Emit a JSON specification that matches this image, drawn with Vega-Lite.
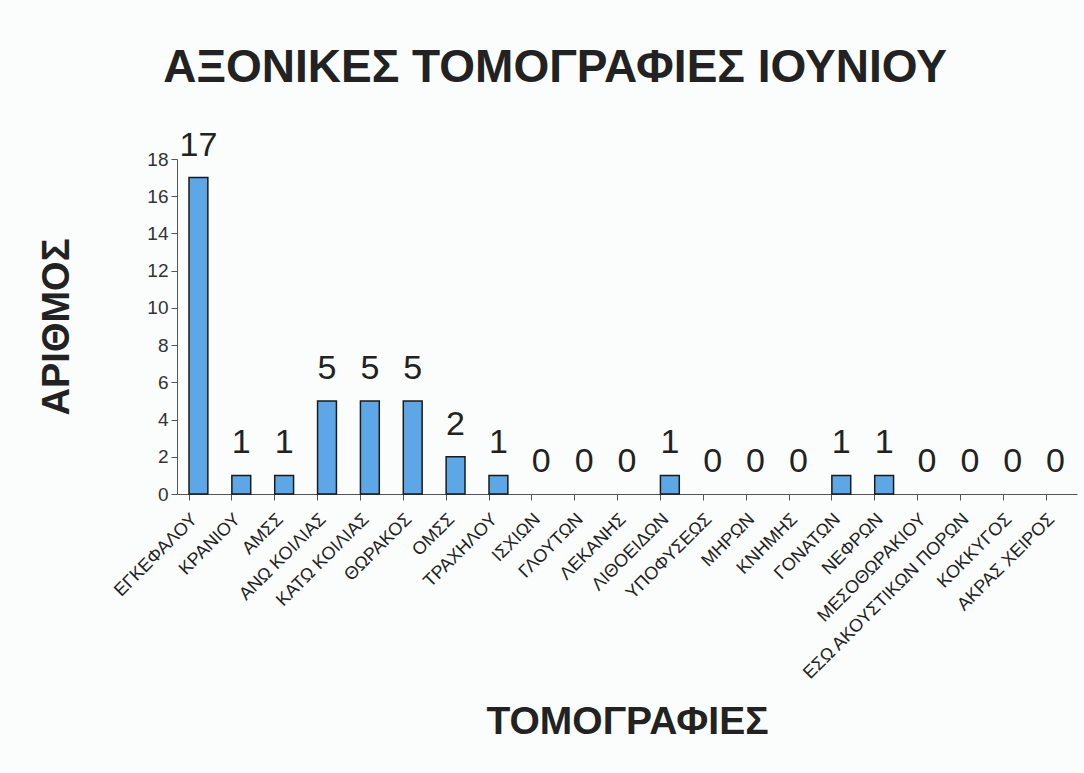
{
  "$schema": "https://vega.github.io/schema/vega-lite/v6.json",
  "autosize": "none",
  "width": 900,
  "height": 335,
  "padding": {"left": 177, "top": 159, "right": 7, "bottom": 279},
  "background": "#fbfdfd",
  "title": {
    "text": "ΑΞΟΝΙΚΕΣ ΤΟΜΟΓΡΑΦΙΕΣ ΙΟΥΝΙΟΥ",
    "font": "Liberation Sans",
    "fontWeight": "bold",
    "fontSize": 46,
    "color": "#222222",
    "anchor": "middle",
    "dx": -72,
    "offset": 37
  },
  "config": {
    "view": {"stroke": null},
    "font": "Liberation Sans",
    "axisY": {
      "titleFont": "Liberation Sans",
      "titleFontSize": 38,
      "titleFontWeight": "bold",
      "titleColor": "#222222",
      "titlePadding": 70,
      "labelOverlap": false,
      "labelFontSize": 19,
      "labelColor": "#333333",
      "labelPadding": 3,
      "tickSize": 6,
      "tickColor": "#555555",
      "domainColor": "#555555",
      "grid": false
    },
    "axisX": {
      "titleFont": "Liberation Sans",
      "titleFontSize": 39,
      "titleFontWeight": "bold",
      "titleColor": "#222222",
      "titlePadding": 20,
      "labelAngle": -45,
      "labelFontSize": 18,
      "labelColor": "#222222",
      "labelPadding": 10,
      "labelOffset": -10,
      "labelLimit": 0,
      "labelOverlap": false,
      "bandPosition": 0,
      "tickSize": 6,
      "tickColor": "#555555",
      "domainColor": "#555555"
    }
  },
  "data": {
    "values": [
      {"cat": "ΕΓΚΕΦΑΛΟΥ", "n": 17},
      {"cat": "ΚΡΑΝΙΟΥ", "n": 1},
      {"cat": "ΑΜΣΣ", "n": 1},
      {"cat": "ΑΝΩ ΚΟΙΛΙΑΣ", "n": 5},
      {"cat": "ΚΑΤΩ ΚΟΙΛΙΑΣ", "n": 5},
      {"cat": "ΘΩΡΑΚΟΣ", "n": 5},
      {"cat": "ΟΜΣΣ", "n": 2},
      {"cat": "ΤΡΑΧΗΛΟΥ", "n": 1},
      {"cat": "ΙΣΧΙΩΝ", "n": 0},
      {"cat": "ΓΛΟΥΤΩΝ", "n": 0},
      {"cat": "ΛΕΚΑΝΗΣ", "n": 0},
      {"cat": "ΛΙΘΟΕΙΔΩΝ", "n": 1},
      {"cat": "ΥΠΟΦΥΣΕΩΣ", "n": 0},
      {"cat": "ΜΗΡΩΝ", "n": 0},
      {"cat": "ΚΝΗΜΗΣ", "n": 0},
      {"cat": "ΓΟΝΑΤΩΝ", "n": 1},
      {"cat": "ΝΕΦΡΩΝ", "n": 1},
      {"cat": "ΜΕΣΟΘΩΡΑΚΙΟΥ", "n": 0},
      {"cat": "ΕΣΩ ΑΚΟΥΣΤΙΚΩΝ ΠΟΡΩΝ", "n": 0},
      {"cat": "ΚΟΚΚΥΓΟΣ", "n": 0},
      {"cat": "ΑΚΡΑΣ ΧΕΙΡΟΣ", "n": 0}
    ]
  },
  "encoding": {
    "x": {
      "field": "cat",
      "type": "nominal",
      "sort": null,
      "scale": {"paddingInner": 0.56, "paddingOuter": 0.28},
      "axis": {"title": "ΤΟΜΟΓΡΑΦΙΕΣ"}
    },
    "y": {
      "field": "n",
      "type": "quantitative",
      "scale": {"domain": [0, 18]},
      "axis": {"title": "ΑΡΙΘΜΟΣ", "values": [0, 2, 4, 6, 8, 10, 12, 14, 16, 18]}
    }
  },
  "layer": [
    {
      "mark": {"type": "bar", "fill": "#5ea7e6", "strokeWidth": 1.5},
      "encoding": {
        "stroke": {
          "condition": {"test": "datum.n > 0", "value": "#1a1a1a"},
          "value": null
        }
      }
    },
    {
      "mark": {"type": "text", "fontSize": 34, "color": "#222222", "baseline": "alphabetic", "dy": -22},
      "encoding": {
        "text": {"field": "n", "type": "quantitative"}
      }
    }
  ]
}
